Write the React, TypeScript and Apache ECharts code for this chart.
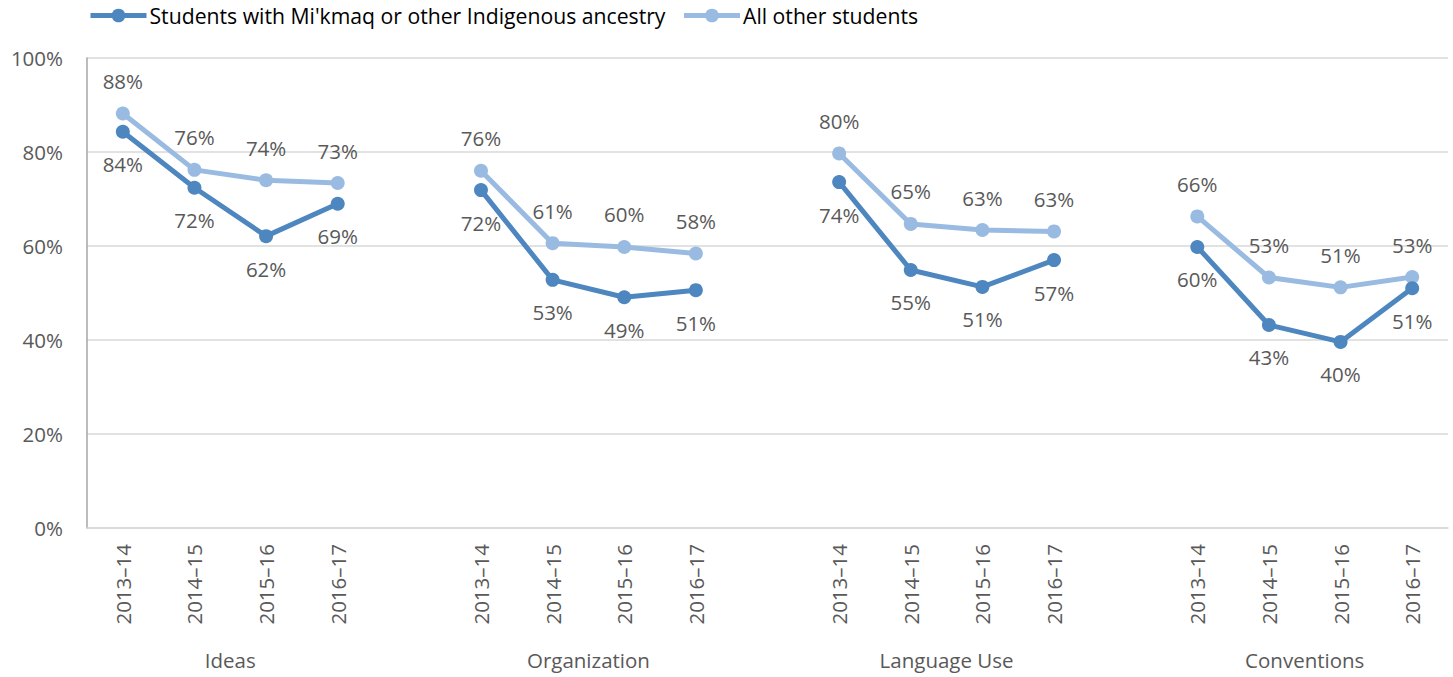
import React, { useEffect, useRef } from "react";
import * as echarts from "echarts";

const groups = ["Ideas", "Organization", "Language Use", "Conventions"];
const years = ["2013–14", "2014–15", "2015–16", "2016–17"];
const seriesNames = ["Students with Mi'kmaq or other Indigenous ancestry", "All other students"];

const indigenous = [
  [84.3, 72.4, 62.1, 69.0],
  [71.9, 52.8, 49.1, 50.6],
  [73.6, 54.9, 51.3, 57.0],
  [59.8, 43.2, 39.6, 51.0],
];
const others = [
  [88.2, 76.2, 74.0, 73.4],
  [76.0, 60.6, 59.8, 58.4],
  [79.7, 64.7, 63.4, 63.1],
  [66.3, 53.3, 51.2, 53.4],
];
const yTicks = [0, 20, 40, 60, 80, 100];

const FONT = "'Open Sans', sans-serif";
const GREY = "#595959";
const FS = 20.5;

function flatten(values: number[][]): (number | null)[] {
  const out: (number | null)[] = [];
  values.forEach((g, i) => {
    g.forEach((v) => out.push(v));
    if (i < values.length - 1) out.push(null);
  });
  return out;
}

function buildCategories(): string[] {
  const out: string[] = [];
  groups.forEach((_, i) => {
    years.forEach((y) => out.push(y));
    if (i < groups.length - 1) out.push("");
  });
  return out;
}

export default function App() {
  const ref = useRef<HTMLDivElement>(null);
  useEffect(() => {
    if (!ref.current) return;
    const chart = echarts.init(ref.current, undefined, { renderer: "svg" });
    const categories = buildCategories();
    const n = categories.length;
    const groupCenters = groups.map((_, i) => i * (years.length + 1) + years.length / 2);
    const label = (pos: string) => ({
      show: true,
      position: pos,
      distance: 15,
      color: GREY,
      fontSize: FS,
      fontFamily: FONT,
      formatter: (p: any) => (p.value == null ? "" : Math.round(p.value) + "%"),
    });
    chart.setOption({
      animation: false,
      textStyle: { fontFamily: FONT },
      legend: {
        left: 83,
        top: 0,
        itemWidth: 56,
        itemHeight: 17,
        itemGap: 16,
        lineStyle: { width: 5 },
        textStyle: { fontSize: 21.2, color: "#000", fontFamily: FONT, padding: [0, 0, 0, -2] },
        data: seriesNames,
      },
      grid: { left: 87, right: 5, top: 58, bottom: 149, containLabel: false },
      xAxis: [
        {
          type: "category",
          data: categories,
          axisLine: { lineStyle: { color: "#d9d9d9", width: 1.5 } },
          axisTick: { show: false },
          axisLabel: { interval: 0, rotate: 90, color: GREY, fontSize: FS, fontFamily: FONT, margin: 16 },
        },
        {
          type: "value",
          position: "bottom",
          min: 0,
          max: n,
          axisLine: { show: false },
          axisTick: { show: false },
          splitLine: { show: false },
          axisLabel: {
            customValues: groupCenters,
            color: GREY,
            fontSize: FS,
            fontFamily: FONT,
            margin: 121,
            formatter: (v: number) => {
              const idx = groupCenters.indexOf(v);
              return idx >= 0 ? groups[idx] : "";
            },
          },
        },
      ],
      yAxis: {
        type: "value",
        min: 0,
        max: 100,
        interval: 20,
        axisLine: { show: true, lineStyle: { color: "#a6a6a6", width: 1.5 } },
        axisTick: { show: false },
        splitLine: { lineStyle: { color: "#d9d9d9", width: 1.5 } },
        axisLabel: {
          color: GREY,
          fontSize: FS,
          fontFamily: FONT,
          margin: 24,
          formatter: (v: number) => (yTicks.includes(v) ? v + "%" : ""),
        },
      },
      series: [
        {
          name: seriesNames[1],
          type: "line",
          data: flatten(others),
          symbol: "circle",
          symbolSize: 14,
          lineStyle: { width: 5, color: "#9abbe1" },
          itemStyle: { color: "#9abbe1" },
          label: label("top"),
          z: 2,
        },
        {
          name: seriesNames[0],
          type: "line",
          data: flatten(indigenous),
          symbol: "circle",
          symbolSize: 14,
          lineStyle: { width: 5, color: "#4e87bf" },
          itemStyle: { color: "#4e87bf" },
          label: label("bottom"),
          z: 3,
        },
      ],
    });
    return () => chart.dispose();
  }, []);
  return (
    <div
      ref={ref}
      style={{ position: "absolute", left: 0, top: 0, width: 1453, height: 677 }}
    />
  );
}
